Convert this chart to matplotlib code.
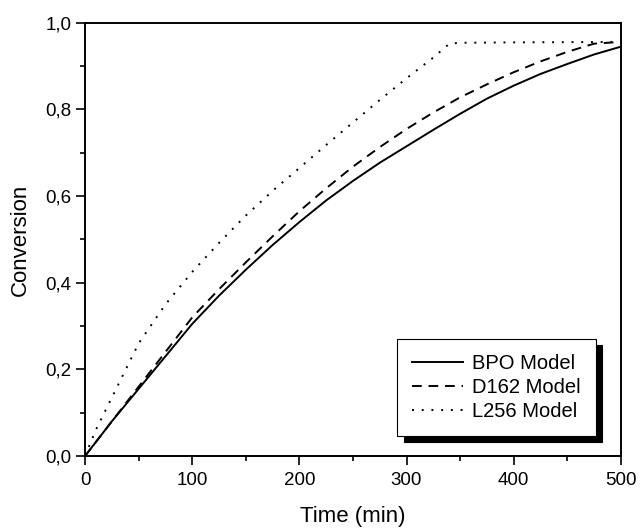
import matplotlib
matplotlib.use("Agg")
import matplotlib.pyplot as plt
from matplotlib.ticker import MultipleLocator, FuncFormatter

plt.rcParams['font.family'] = ['Liberation Sans', 'DejaVu Sans']

# conversion curves (every 25 min)
bpo_t = [0, 25, 50, 75, 100, 125, 150, 175, 200, 225, 250, 275, 300, 325, 350, 375, 400, 425, 450, 475, 500]
bpo_x = [0, 0.08, 0.155, 0.23, 0.305, 0.37, 0.43, 0.487, 0.54, 0.59, 0.635, 0.677, 0.715,
         0.753, 0.79, 0.825, 0.855, 0.882, 0.905, 0.927, 0.945]

d162_t = [0, 25, 50, 75, 100, 125, 150, 175, 200, 225, 250, 275, 300, 325, 350, 375, 400, 425, 450, 475, 500]
d162_x = [0, 0.08, 0.16, 0.24, 0.32, 0.385, 0.447, 0.507, 0.565, 0.618, 0.668, 0.713, 0.755,
          0.793, 0.828, 0.858, 0.886, 0.911, 0.933, 0.952, 0.956]

l256_t = [0, 10, 25, 50, 75, 100, 125, 150, 175, 200, 225, 250, 275, 300, 325, 340, 350, 400, 500]
l256_x = [0, 0.06, 0.135, 0.26, 0.35, 0.425, 0.492, 0.555, 0.612, 0.665, 0.718, 0.77, 0.822,
          0.872, 0.92, 0.952, 0.954, 0.955, 0.956]

fig = plt.figure(figsize=(6.4, 5.32), dpi=100)
ax = fig.add_axes([0.133, 0.143, 0.837, 0.814])

ax.plot(bpo_t, bpo_x, color='black', lw=1.4, ls='-', label='BPO Model')
ax.plot(d162_t, d162_x, color='black', lw=1.4, ls=(0, (5, 3.5)), label='D162 Model')
ax.plot(l256_t, l256_x, color='black', lw=1.4, ls=(0, (1, 4)), label='L256 Model')

ax.set_xlim(0, 500)
ax.set_ylim(0, 1.0)
ax.xaxis.set_major_locator(MultipleLocator(100))
ax.xaxis.set_minor_locator(MultipleLocator(50))
ax.yaxis.set_major_locator(MultipleLocator(0.2))
ax.yaxis.set_minor_locator(MultipleLocator(0.1))
ax.yaxis.set_major_formatter(FuncFormatter(lambda v, p: f"{v:.1f}".replace('.', ',')))
ax.xaxis.set_major_formatter(FuncFormatter(lambda v, p: f"{v:.0f}"))

ax.tick_params(which='major', direction='out', length=6.5, width=1.2, labelsize=13.5,
               top=False, right=False)
ax.tick_params(axis='x', which='major', pad=5)
ax.tick_params(which='minor', direction='out', length=3.6, width=1.2, top=False, right=False)
for s in ax.spines.values():
    s.set_linewidth(1.4)

ax.set_xlabel('Time (min)', fontsize=16, labelpad=12)
ax.set_ylabel('Conversion', fontsize=16, labelpad=10)

leg = ax.legend(loc='lower right', bbox_to_anchor=(0.953, 0.046), borderaxespad=0,
                fontsize=14.5, frameon=True, fancybox=False, edgecolor='black', framealpha=1,
                handlelength=2.5, handletextpad=0.45, borderpad=0.75, labelspacing=0.25,
                shadow={'ox': 4.5, 'oy': -4.5, 'facecolor': 'black', 'edgecolor': 'black', 'alpha': 1})
leg.get_frame().set_linewidth(0.8)

fig.savefig('out.png', dpi=100)
